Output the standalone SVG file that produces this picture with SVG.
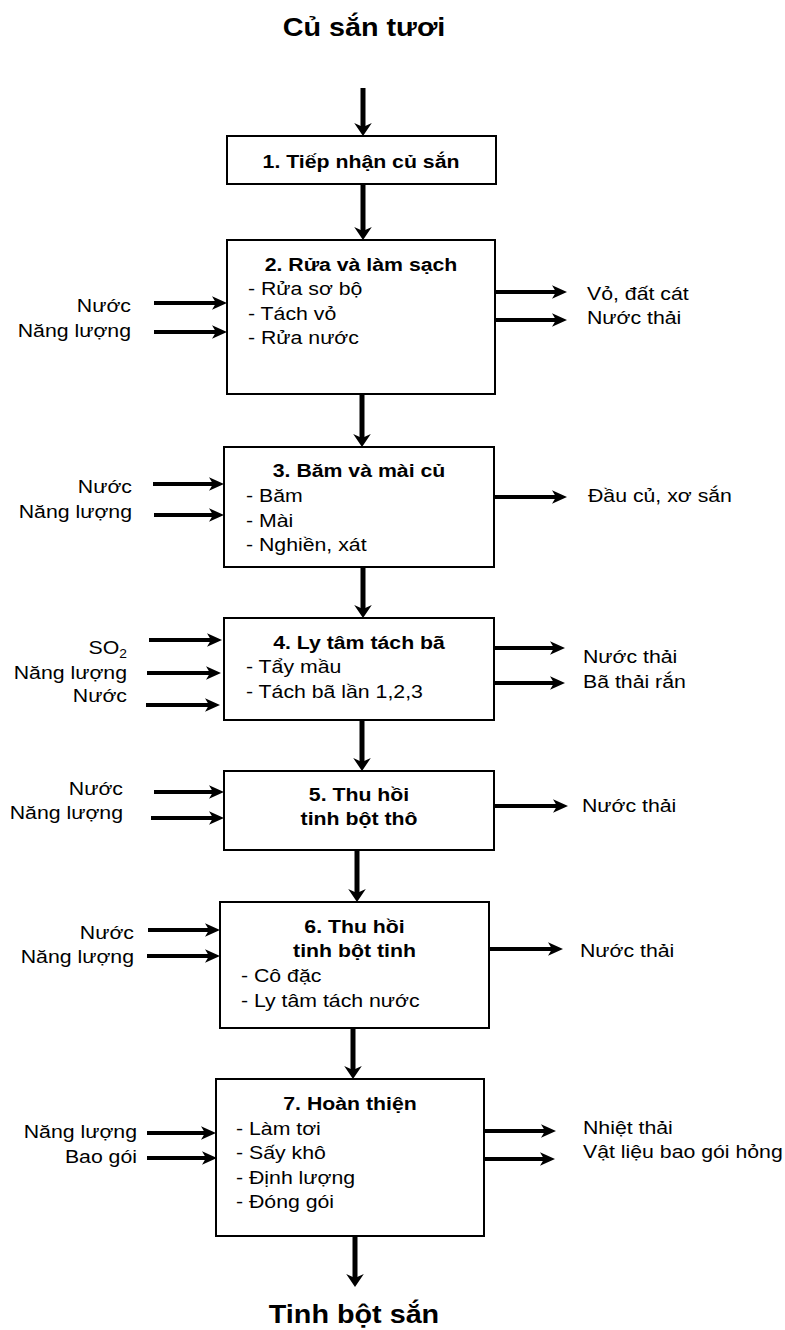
<svg xmlns="http://www.w3.org/2000/svg" width="785" height="1330" viewBox="0 0 785 1330">
<style>
.box{fill:#fff;stroke:#000;stroke-width:2}
.h{stroke:#000;stroke-width:4;fill:none;marker-end:url(#ah)}
.v{stroke:#000;stroke-width:5;fill:none;marker-end:url(#av)}
text{font-family:"Liberation Sans",Arial,sans-serif;font-size:18.5px;fill:#000}
.b{font-weight:bold}
.big{font-size:25px;font-weight:bold}
.m{text-anchor:middle}
.e{text-anchor:end}
</style>
<defs>
<marker id="ah" markerUnits="userSpaceOnUse" viewBox="0 -10 20 20" markerWidth="20" markerHeight="20" refX="7" refY="0" orient="auto" overflow="visible"><path d="M15,0 L0,-6.7 L4,0 L0,6.7 Z" fill="#000"/></marker>
<marker id="av" markerUnits="userSpaceOnUse" viewBox="0 -10 20 20" markerWidth="20" markerHeight="20" refX="6" refY="0" orient="auto" overflow="visible"><path d="M13,0 L0,-8.8 L4,0 L0,8.8 Z" fill="#000"/></marker>
</defs>
<rect width="785" height="1330" fill="#fff"/>

<g id="connectors">
<line class="v" x1="363" y1="88" x2="363" y2="129"/>
<line class="v" x1="363" y1="184" x2="363" y2="233"/>
<line class="v" x1="362" y1="394" x2="362" y2="440"/>
<line class="v" x1="363" y1="567" x2="363" y2="611"/>
<line class="v" x1="362" y1="720" x2="362" y2="764"/>
<line class="v" x1="357" y1="850" x2="357" y2="895"/>
<line class="v" x1="353" y1="1028" x2="353" y2="1072"/>
<line class="v" x1="355" y1="1236" x2="355" y2="1280"/>

<line class="h" x1="154" y1="303" x2="219" y2="303"/>
<line class="h" x1="154" y1="332" x2="219" y2="332"/>
<line class="h" x1="495" y1="292" x2="559" y2="292"/>
<line class="h" x1="495" y1="320" x2="559" y2="320"/>

<line class="h" x1="153" y1="484" x2="216" y2="484"/>
<line class="h" x1="154" y1="515" x2="216" y2="515"/>
<line class="h" x1="494" y1="497" x2="559" y2="497"/>

<line class="h" x1="149" y1="640" x2="214" y2="640"/>
<line class="h" x1="147" y1="673" x2="213" y2="673"/>
<line class="h" x1="146" y1="705" x2="212" y2="705"/>
<line class="h" x1="494" y1="648" x2="557" y2="648"/>
<line class="h" x1="494" y1="683" x2="557" y2="683"/>

<line class="h" x1="154" y1="792" x2="216" y2="792"/>
<line class="h" x1="151" y1="818" x2="216" y2="818"/>
<line class="h" x1="494" y1="806" x2="560" y2="806"/>

<line class="h" x1="148" y1="930" x2="212" y2="930"/>
<line class="h" x1="147" y1="956" x2="212" y2="956"/>
<line class="h" x1="489" y1="949" x2="555" y2="949"/>

<line class="h" x1="147" y1="1133" x2="208" y2="1133"/>
<line class="h" x1="147" y1="1158" x2="209" y2="1158"/>
<line class="h" x1="484" y1="1131" x2="548" y2="1131"/>
<line class="h" x1="483" y1="1159" x2="547" y2="1159"/>
</g>

<g id="start">
<text class="big m" transform="matrix(1.15 0 0 1 364 0)" x="0" y="36">Củ sắn tươi</text>
</g>

<g id="step1">
<rect class="box" x="227" y="136" width="269" height="48"/>
<text class="b m" transform="matrix(1.15 0 0 1 361 0)" x="0" y="168">1. Tiếp nhận củ sắn</text>
</g>

<g id="step2">
<rect class="box" x="227" y="240" width="268" height="154"/>
<text class="b m" transform="matrix(1.15 0 0 1 361 0)" x="0" y="271">2. Rửa và làm sạch</text>
<text transform="matrix(1.15 0 0 1 248 0)"><tspan x="0" y="295">- Rửa sơ bộ</tspan><tspan x="0" y="320">- Tách vỏ</tspan><tspan x="0" y="344">- Rửa nước</tspan></text>
</g>
<g id="in2">
<text class="e" transform="matrix(1.15 0 0 1 131 0)"><tspan x="0" y="312">Nước</tspan><tspan x="0" y="337">Năng lượng</tspan></text>
</g>
<g id="out2">
<text transform="matrix(1.15 0 0 1 587 0)"><tspan x="0" y="300">Vỏ, đất cát</tspan><tspan x="0" y="324">Nước thải</tspan></text>
</g>

<g id="step3">
<rect class="box" x="224" y="447" width="270" height="120"/>
<text class="b m" transform="matrix(1.15 0 0 1 359 0)" x="0" y="477">3. Băm và mài củ</text>
<text transform="matrix(1.15 0 0 1 246 0)"><tspan x="0" y="502">- Băm</tspan><tspan x="0" y="527">- Mài</tspan><tspan x="0" y="551">- Nghiền, xát</tspan></text>
</g>
<g id="in3">
<text class="e" transform="matrix(1.15 0 0 1 132 0)"><tspan x="0" y="493">Nước</tspan><tspan x="0" y="518">Năng lượng</tspan></text>
</g>
<g id="out3">
<text transform="matrix(1.15 0 0 1 588 0)" x="0" y="502">Đầu củ, xơ sắn</text>
</g>

<g id="step4">
<rect class="box" x="224" y="618" width="270" height="102"/>
<text class="b m" transform="matrix(1.15 0 0 1 359 0)" x="0" y="649">4. Ly tâm tách bã</text>
<text transform="matrix(1.15 0 0 1 246 0)"><tspan x="0" y="673">- Tẩy mầu</tspan><tspan x="0" y="698">- Tách bã lần 1,2,3</tspan></text>
</g>
<g id="in4">
<text class="e" transform="matrix(1.15 0 0 1 127 0)" x="0" y="654">SO<tspan font-size="12px" dy="4">2</tspan></text>
<text class="e" transform="matrix(1.15 0 0 1 127 0)"><tspan x="0" y="679">Năng lượng</tspan><tspan x="0" y="702">Nước</tspan></text>
</g>
<g id="out4">
<text transform="matrix(1.15 0 0 1 583 0)"><tspan x="0" y="663">Nước thải</tspan><tspan x="0" y="688">Bã thải rắn</tspan></text>
</g>

<g id="step5">
<rect class="box" x="224" y="771" width="270" height="79"/>
<text class="b m" transform="matrix(1.15 0 0 1 359 0)"><tspan x="0" y="801">5. Thu hồi</tspan><tspan x="0" y="825">tinh bột thô</tspan></text>
</g>
<g id="in5">
<text class="e" transform="matrix(1.15 0 0 1 123 0)"><tspan x="0" y="795">Nước</tspan><tspan x="0" y="819">Năng lượng</tspan></text>
</g>
<g id="out5">
<text transform="matrix(1.15 0 0 1 582 0)" x="0" y="812">Nước thải</text>
</g>

<g id="step6">
<rect class="box" x="220" y="902" width="269" height="126"/>
<text class="b m" transform="matrix(1.15 0 0 1 354.5 0)"><tspan x="0" y="933">6. Thu hồi</tspan><tspan x="0" y="957">tinh bột tinh</tspan></text>
<text transform="matrix(1.15 0 0 1 241 0)"><tspan x="0" y="982">- Cô đặc</tspan><tspan x="0" y="1007">- Ly tâm tách nước</tspan></text>
</g>
<g id="in6">
<text class="e" transform="matrix(1.15 0 0 1 134 0)"><tspan x="0" y="939">Nước</tspan><tspan x="0" y="963">Năng lượng</tspan></text>
</g>
<g id="out6">
<text transform="matrix(1.15 0 0 1 580 0)" x="0" y="957">Nước thải</text>
</g>

<g id="step7">
<rect class="box" x="216" y="1079" width="268" height="157"/>
<text class="b m" transform="matrix(1.15 0 0 1 350 0)" x="0" y="1110">7. Hoàn thiện</text>
<text transform="matrix(1.15 0 0 1 236 0)"><tspan x="0" y="1135">- Làm tơi</tspan><tspan x="0" y="1159">- Sấy khô</tspan><tspan x="0" y="1184">- Định lượng</tspan><tspan x="0" y="1208">- Đóng gói</tspan></text>
</g>
<g id="in7">
<text class="e" transform="matrix(1.15 0 0 1 137 0)"><tspan x="0" y="1138">Năng lượng</tspan><tspan x="0" y="1163">Bao gói</tspan></text>
</g>
<g id="out7">
<text transform="matrix(1.15 0 0 1 583 0)"><tspan x="0" y="1134">Nhiệt thải</tspan><tspan x="0" y="1158">Vật liệu bao gói hỏng</tspan></text>
</g>

<g id="end">
<text class="big m" transform="matrix(1.15 0 0 1 354 0)" x="0" y="1323">Tinh bột sắn</text>
</g>
</svg>
